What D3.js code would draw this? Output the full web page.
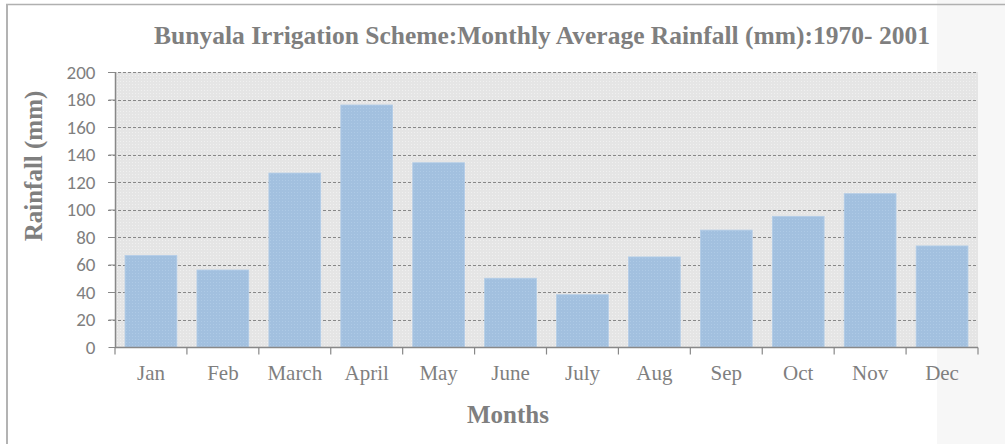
<!DOCTYPE html>
<html><head><meta charset="utf-8">
<script src="https://cdn.jsdelivr.net/npm/d3@7/dist/d3.min.js"></script>
<style>html,body{margin:0;padding:0;background:#fff;overflow:hidden}</style>
</head><body><svg id="c" width="1005" height="444"></svg>
<script>
const months = ["Jan","Feb","March","April","May","June","July","Aug","Sep","Oct","Nov","Dec"];
const rainfall = [66.5,56,126.5,176,134,50,38,65.5,85,95,111.5,73.5];
const yTicks = [0,20,40,60,80,100,120,140,160,180,200];
const title = "Bunyala Irrigation Scheme:Monthly Average Rainfall (mm):1970- 2001";
const xTitle = "Months";
const yTitle = "Rainfall (mm)";

(function(){
const svg = d3.select("#c");
const grey = "#7f7f7f";
const serif = "'Liberation Serif','Times New Roman',serif";
const sans = "Carlito,'Liberation Sans','Open Sans',sans-serif";

svg.append("rect").attr("x",0).attr("y",0).attr("width",1005).attr("height",444).attr("fill","#fff");
svg.append("rect").attr("x",937).attr("y",0).attr("width",68).attr("height",444).attr("fill","#f7f7f7");
svg.append("line").attr("x1",6).attr("x2",1005).attr("y1",4.5).attr("y2",4.5).attr("stroke","#b0b0b0").attr("stroke-width",1.5);
svg.append("line").attr("x1",7).attr("x2",7).attr("y1",4).attr("y2",444).attr("stroke","#b3b3b3").attr("stroke-width",2);

const pl = 115, pr = 978, pt = 72, pb = 347;
const x = d3.scaleBand().domain(months).range([pl,pr]).paddingInner(0.28).paddingOuter(0.14);
const y = d3.scaleLinear().domain([0,200]).range([pb,pt]);

const defs = svg.append("defs");
const pat = defs.append("pattern").attr("id","bgp").attr("width",3).attr("height",3).attr("patternUnits","userSpaceOnUse");
pat.append("rect").attr("width",3).attr("height",3).attr("fill","#e5e5e5");
pat.append("rect").attr("width",1).attr("height",1).attr("fill","#f0f0f0");
const pat2 = defs.append("pattern").attr("id","barp").attr("width",3).attr("height",3).attr("patternUnits","userSpaceOnUse");
pat2.append("rect").attr("width",3).attr("height",3).attr("fill","#a2c0df");
pat2.append("rect").attr("width",1).attr("height",1).attr("fill","#aecae6");

svg.append("rect").attr("x",pl).attr("y",pt).attr("width",pr-pl).attr("height",pb-pt).attr("fill","url(#bgp)");

svg.append("g").selectAll("line").data(yTicks.filter(d=>d>0)).join("line")
  .attr("x1",pl-7).attr("x2",pr).attr("y1",d=>Math.round(y(d))+0.5).attr("y2",d=>Math.round(y(d))+0.5)
  .attr("stroke","#888").attr("stroke-width",1).attr("stroke-dasharray","3,2");

svg.append("g").selectAll("rect").data(rainfall).join("rect")
  .attr("x",(d,i)=>x(months[i])).attr("width",x.bandwidth())
  .attr("y",d=>y(d)).attr("height",d=>pb-y(d))
  .attr("fill","url(#barp)").attr("stroke","#b3cde8").attr("stroke-width",0.8);

const ya = svg.append("g").attr("transform",`translate(${pl+0.5},0)`)
  .call(d3.axisLeft(y).tickValues(yTicks).tickSize(7).tickPadding(13));
ya.select(".domain").attr("stroke","#888").attr("stroke-width",1.5).attr("d",`M0,${pt}V${pb}`);
ya.selectAll(".tick line").attr("stroke","#888");
ya.selectAll("text").attr("fill",grey).attr("font-family",sans).attr("font-size",19);

const xa = svg.append("g").attr("transform",`translate(0,${pb+0.5})`)
  .call(d3.axisBottom(x).tickSize(0));
xa.select(".domain").attr("stroke","#888").attr("stroke-width",1.5).attr("d",`M${pl},0H${pr}`);
xa.selectAll("text").attr("fill",grey).attr("font-family",serif).attr("font-size",21).attr("y",32).attr("dy",0);
const bounds = months.map(m=>x(m)-x.step()*x.paddingInner()/2).concat([pr]);
bounds[0] = pl;
xa.append("g").selectAll("line").data(bounds).join("line")
  .attr("x1",d=>d).attr("x2",d=>d).attr("y1",0).attr("y2",7).attr("stroke","#888").attr("stroke-width",1.2);

svg.append("text").attr("x",542).attr("y",44).attr("text-anchor","middle")
  .attr("font-family",serif).attr("font-weight","bold").attr("font-size",25.5).attr("fill",grey).text(title);
svg.append("text").attr("x",508).attr("y",423).attr("text-anchor","middle")
  .attr("font-family",serif).attr("font-weight","bold").attr("font-size",25).attr("fill",grey).text(xTitle);
svg.append("text").attr("transform","translate(42,166) rotate(-90)").attr("text-anchor","middle")
  .attr("font-family",serif).attr("font-weight","bold").attr("font-size",25).attr("fill",grey).text(yTitle);
})();
</script></body></html>
